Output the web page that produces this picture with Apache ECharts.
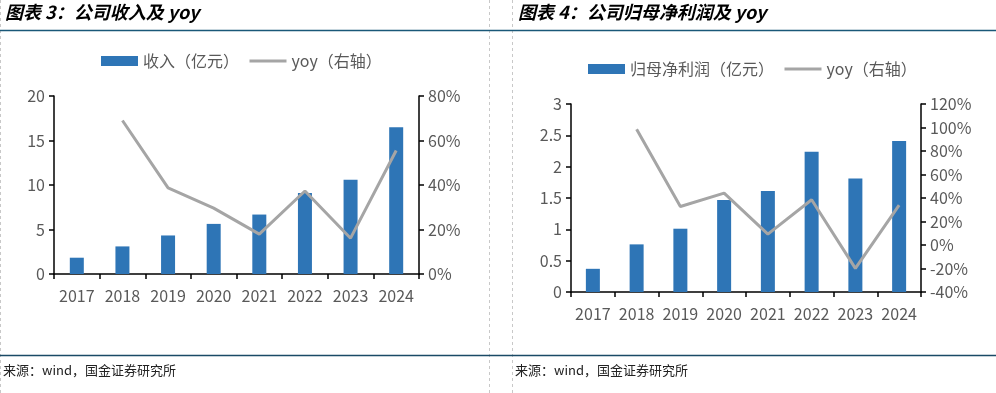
<!DOCTYPE html>
<html>
<head>
<meta charset="utf-8">
<script src="https://cdn.jsdelivr.net/npm/echarts@6/dist/echarts.min.js"></script>
<style>
html,body{margin:0;padding:0;background:#fff;}
#c{width:996px;height:393px;}
</style>
</head>
<body>
<div id="c"></div>
<script>
// ---- data ----
const years = ['2017','2018','2019','2020','2021','2022','2023','2024'];
const revenue = [1.83, 3.1, 4.33, 5.63, 6.68, 9.1, 10.6, 16.5];
const revenueYoy = [null, 69, 38.7, 29.6, 17.9, 37.3, 16.1, 55.5];
const profit = [0.37, 0.76, 1.01, 1.47, 1.61, 2.24, 1.81, 2.41];
const profitYoy = [null, 98.5, 32.8, 44.2, 9.3, 38.5, -19.9, 33.9];
const leftTitle = '图表 3：公司收入及 yoy';
const rightTitle = '图表 4：公司归母净利润及 yoy';
const sourceText = '来源：wind，国金证券研究所';
const revName = '收入（亿元）';
const profName = '归母净利润（亿元）';
const yoyName = 'yoy（右轴）';

const FONT = '"Noto Sans CJK SC","Noto Sans",sans-serif';
const LBL = '#595959';
const BAR = '#2E75B6';
const LINE = '#A5A5A5';
const axisLine = {show:true, lineStyle:{color:'#000', width:1.5}};
const axisTick = {show:true, length:5, lineStyle:{color:'#000', width:1.5}};

function xAx(gi){
  return {type:'category', gridIndex:gi, data:years, boundaryGap:true,
    axisLine:axisLine, axisTick:{...axisTick, alignWithLabel:false},
    axisLabel:{color:LBL, fontSize:16, fontFamily:FONT, margin:14, interval:0}};
}
function yAx(gi, pos, min, max, interval, pct){
  return {type:'value', gridIndex:gi, position:pos, min:min, max:max, interval:interval,
    splitLine:{show:false}, axisLine:axisLine, axisTick:axisTick,
    axisLabel:{color:LBL, fontSize:16, fontFamily:FONT, margin:9,
      formatter: pct ? (v => v + '%') : (v => String(v))}};
}
const yoyLegendItem = {name:yoyName, itemStyle:{opacity:0, borderWidth:0}, lineStyle:{color:LINE, width:3}};

const chart = echarts.init(document.getElementById('c'), null, {renderer:'canvas'});
chart.setOption({
  animation:false,
  backgroundColor:'#fff',
  grid:[
    {left:54, right:577, top:96, bottom:119},
    {left:571, right:75, top:104, bottom:101}
  ],
  xAxis:[xAx(0), xAx(1)],
  yAxis:[
    yAx(0,'left',0,20,5,false),
    yAx(0,'right',0,80,20,true),
    yAx(1,'left',0,3,0.5,false),
    yAx(1,'right',-40,120,20,true)
  ],
  legend:[
    {left:101, top:53, padding:0, itemWidth:37, itemHeight:10, itemGap:9,
     textStyle:{color:LBL, fontSize:16, fontFamily:FONT},
     data:[{name:revName, icon:'rect'}, yoyLegendItem]},
    {left:588, top:61, padding:0, itemWidth:37, itemHeight:10, itemGap:9,
     textStyle:{color:LBL, fontSize:16, fontFamily:FONT},
     data:[{name:profName, icon:'rect'}, yoyLegendItem]}
  ],
  series:[
    {name:revName, type:'bar', xAxisIndex:0, yAxisIndex:0, data:revenue, barWidth:14, itemStyle:{color:BAR}},
    {name:yoyName, type:'line', xAxisIndex:0, yAxisIndex:1, data:revenueYoy, symbol:'none', showSymbol:false,
      lineStyle:{color:LINE, width:3}, itemStyle:{color:LINE}},
    {name:profName, type:'bar', xAxisIndex:1, yAxisIndex:2, data:profit, barWidth:14, itemStyle:{color:BAR}},
    {name:yoyName, type:'line', xAxisIndex:1, yAxisIndex:3, data:profitYoy, symbol:'none', showSymbol:false,
      lineStyle:{color:LINE, width:3}, itemStyle:{color:LINE}}
  ],
  graphic:[
    {type:'line', shape:{x1:0,y1:30.5,x2:996,y2:30.5}, style:{stroke:'#1A5878', lineWidth:1.5}, z:10},
    {type:'line', shape:{x1:0,y1:355.5,x2:996,y2:355.5}, style:{stroke:'#1A4A66', lineWidth:1.5}, z:10},
    {type:'line', shape:{x1:0.5,y1:0,x2:0.5,y2:393}, style:{stroke:'#C8C8C8', lineWidth:1, lineDash:[3,3]}},
    {type:'line', shape:{x1:489.5,y1:0,x2:489.5,y2:393}, style:{stroke:'#C8C8C8', lineWidth:1, lineDash:[3,3]}},
    {type:'line', shape:{x1:512.5,y1:0,x2:512.5,y2:393}, style:{stroke:'#C8C8C8', lineWidth:1, lineDash:[3,3]}},
    {type:'text', left:5, top:3, style:{text:leftTitle, fill:'#000', font:'italic bold 18px ' + FONT}},
    {type:'text', left:518, top:3, style:{text:rightTitle, fill:'#000', font:'italic bold 18px ' + FONT}},
    {type:'text', left:3, top:364, style:{text:sourceText, fill:'#222', font:'13px ' + FONT}},
    {type:'text', left:515, top:364, style:{text:sourceText, fill:'#222', font:'13px ' + FONT}}
  ]
});
</script>
</body>
</html>
